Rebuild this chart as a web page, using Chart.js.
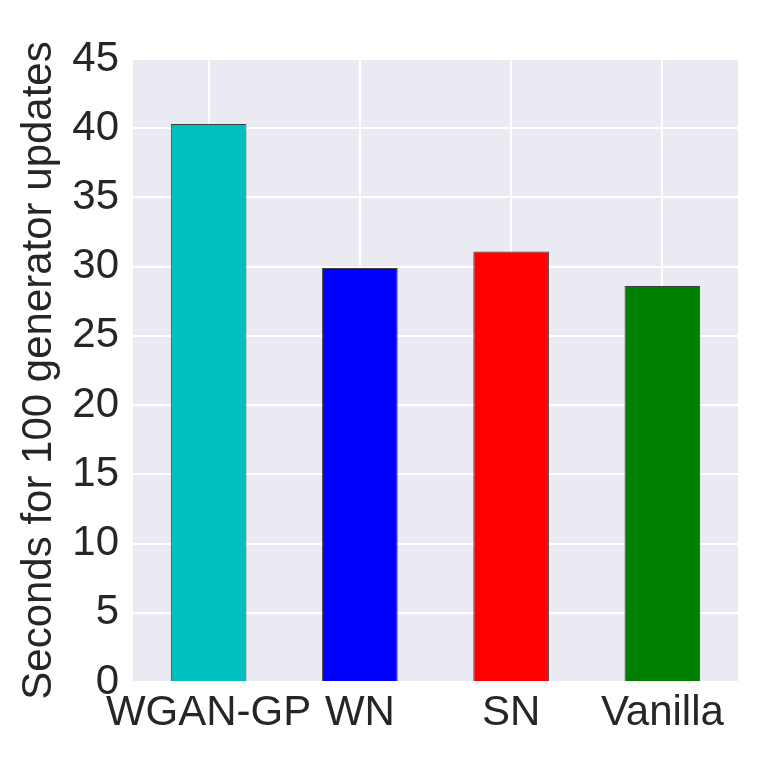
<!DOCTYPE html>
<html>
<head>
<meta charset="utf-8">
<script src="https://cdn.jsdelivr.net/npm/chart.js@4"></script>
<style>
  html, body { margin: 0; padding: 0; background: #fff; }
  #wrap { width: 761px; height: 761px; }
</style>
</head>
<body>
<div id="wrap"><canvas id="timeChart"></canvas></div>
<script>
// data
const methods = ['WGAN-GP', 'WN', 'SN', 'Vanilla'];
const seconds = [40.3, 29.9, 31.1, 28.6];
const barColors = ['#00BFBF', '#0000FF', '#FF0000', '#008000'];
const yTicks = [0, 5, 10, 15, 20, 25, 30, 35, 40, 45];

const textColor = '#262626';
const fontFamily = '"Liberation Sans", Arial, sans-serif';

// seaborn darkgrid style background behind the plot area
const plotBackground = {
    id: 'plotBackground',
    beforeDraw(chart) {
        const { ctx, chartArea: a } = chart;
        ctx.save();
        ctx.fillStyle = '#EAEAF2';
        ctx.fillRect(a.left, a.top, a.right - a.left, a.bottom - a.top);
        ctx.restore();
    }
};

new Chart(document.getElementById('timeChart'), {
    type: 'bar',
    data: {
        labels: methods,
        datasets: [{
            data: seconds,
            backgroundColor: barColors,
            borderColor: 'rgba(30, 30, 30, 0.85)',
            borderWidth: 1,
            categoryPercentage: 1.0,
            barPercentage: 0.5
        }]
    },
    options: {
        responsive: true,
        maintainAspectRatio: false,
        animation: false,
        layout: { padding: { top: 59, right: 23, left: 0, bottom: 0 } },
        plugins: {
            legend: { display: false },
            tooltip: { enabled: false }
        },
        scales: {
            x: {
                grid: { color: '#FFFFFF', lineWidth: 2, offset: false, drawTicks: false },
                border: { display: false },
                ticks: {
                    color: textColor,
                    padding: 6,
                    maxRotation: 0,
                    autoSkip: false,
                    font: { family: fontFamily, size: 42 }
                },
                afterFit: function(scale) { scale.height = 79; }
            },
            y: {
                min: 0,
                max: 45,
                afterBuildTicks: function(scale) {
                    scale.ticks = yTicks.map(v => ({ value: v }));
                },
                grid: { color: '#FFFFFF', lineWidth: 2, drawTicks: false },
                border: { display: false },
                ticks: {
                    color: textColor,
                    padding: 14,
                    font: { family: fontFamily, size: 42 }
                },
                title: {
                    display: true,
                    text: 'Seconds for 100 generator updates',
                    color: textColor,
                    padding: { top: 14, bottom: 0 },
                    font: { family: fontFamily, size: 42 }
                },
                afterFit: function(scale) { scale.width = 133; }
            }
        }
    },
    plugins: [plotBackground]
});
</script>
</body>
</html>
